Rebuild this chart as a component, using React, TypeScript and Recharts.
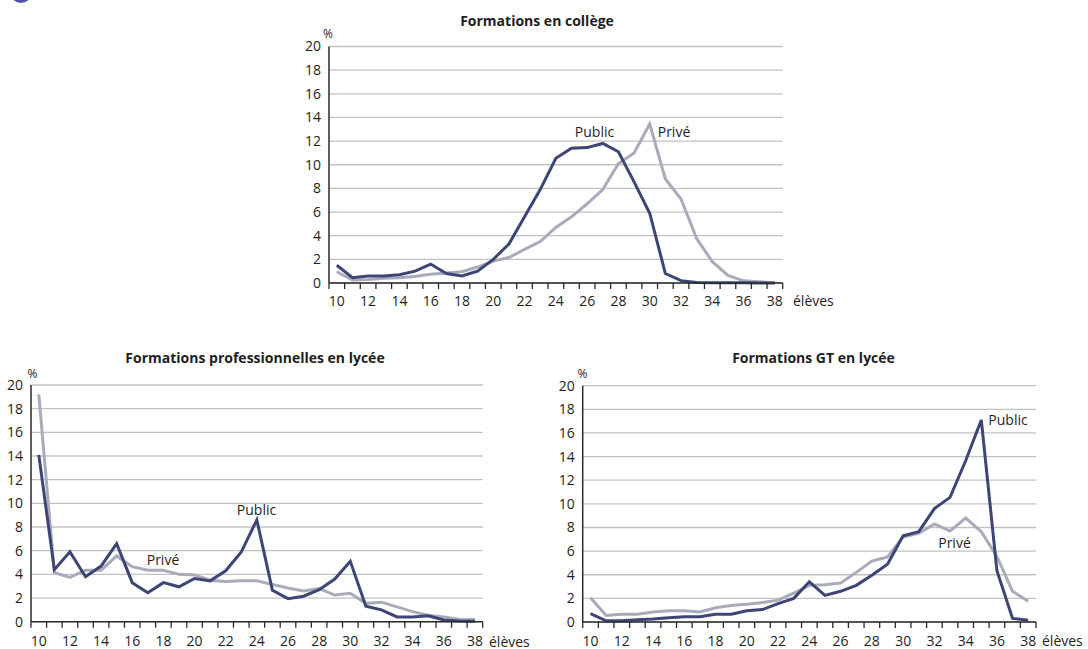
import React from 'react';
import { LineChart, Line, XAxis, YAxis, CartesianGrid } from 'recharts';

const categories = [10, 11, 12, 13, 14, 15, 16, 17, 18, 19, 20, 21, 22, 23, 24, 25, 26, 27, 28, 29, 30, 31, 32, 33, 34, 35, 36, 37, 38];

const collegePublic = [1.5, 0.45, 0.6, 0.6, 0.7, 1.0, 1.6, 0.8, 0.6, 1.0, 2.0, 3.3, 5.6, 7.9, 10.55, 11.4, 11.45, 11.8, 11.1, 8.55, 5.9, 0.8, 0.2, 0.05, 0.03, 0.02, 0.02, 0.01, 0.0];
const collegePrive = [0.95, 0.25, 0.3, 0.4, 0.45, 0.55, 0.75, 0.85, 0.95, 1.35, 1.85, 2.15, 2.85, 3.5, 4.7, 5.6, 6.7, 7.9, 10.1, 11.0, 13.45, 8.8, 7.1, 3.75, 1.8, 0.65, 0.18, 0.1, 0.03];

const proPublic = [14.1, 4.4, 5.9, 3.8, 4.7, 6.6, 3.3, 2.45, 3.3, 2.95, 3.65, 3.45, 4.3, 5.9, 8.6, 2.65, 1.95, 2.15, 2.7, 3.6, 5.1, 1.3, 1.0, 0.4, 0.4, 0.5, 0.15, 0.05, 0.03];
const proPrive = [19.2, 4.15, 3.75, 4.35, 4.35, 5.55, 4.65, 4.35, 4.35, 4.0, 3.95, 3.5, 3.4, 3.45, 3.45, 3.15, 2.85, 2.6, 2.8, 2.25, 2.4, 1.55, 1.65, 1.25, 0.85, 0.55, 0.4, 0.2, 0.18];

const gtPublic = [0.7, 0.1, 0.1, 0.2, 0.25, 0.35, 0.45, 0.45, 0.65, 0.65, 0.95, 1.05, 1.55, 2.0, 3.4, 2.25, 2.6, 3.1, 3.95, 4.9, 7.3, 7.65, 9.6, 10.55, 13.65, 17.1, 4.35, 0.3, 0.15];
const gtPrive = [2.05, 0.55, 0.65, 0.65, 0.85, 0.95, 0.95, 0.85, 1.2, 1.4, 1.5, 1.65, 1.85, 2.45, 3.1, 3.15, 3.3, 4.2, 5.15, 5.5, 7.2, 7.5, 8.3, 7.7, 8.8, 7.65, 5.55, 2.6, 1.75];

const yTicks = [0, 2, 4, 6, 8, 10, 12, 14, 16, 18, 20];
const xLabelTicks = [10, 12, 14, 16, 18, 20, 22, 24, 26, 28, 30, 32, 34, 36, 38];

const FONT = '"Open Sans", "DejaVu Sans", sans-serif';
const PUBLIC_COLOR = '#3d4577';
const PRIVE_COLOR = '#a9abba';
const GRID = '#c2c2c2';
const AXIS = '#2a2a2a';
const TEXT = '#1e1e1e';

const buildRows = (pub: number[], prv: number[]) =>
  categories.map((c, i) => ({ x: c, public: pub[i], prive: prv[i] }));

const xTicks: number[] = [];
categories.forEach((c) => {
  xTicks.push(c - 0.5);
  xTicks.push(c);
});
xTicks.push(categories[categories.length - 1] + 0.5);

const xDomain = [categories[0] - 0.5, categories[categories.length - 1] + 0.5];

function XTick(props: any) {
  const { x, y, payload, labelGap } = props;
  const v = payload.value;
  if (!Number.isInteger(v)) {
    return <line x1={x} x2={x} y1={y} y2={y + 6} stroke={AXIS} strokeWidth={1.3} />;
  }
  if (xLabelTicks.includes(v)) {
    return (
      <text x={x} y={y + labelGap} dy="0.71em" textAnchor="middle" fontSize={14} fill={TEXT} fontFamily={FONT}>
        {v}
      </text>
    );
  }
  return <g />;
}

type PanelProps = {
  rows: any[];
  width: number;
  height: number;
  margin: { top: number; right: number; bottom: number; left: number };
  yAxisWidth: number;
  xAxisHeight: number;
  labelGap: number;
};

function Panel({ rows, width, height, margin, yAxisWidth, xAxisHeight, labelGap }: PanelProps) {
  return (
    <LineChart width={width} height={height} data={rows} margin={margin}>
      <CartesianGrid horizontal vertical={false} stroke={GRID} strokeWidth={1.3} />
      <XAxis
        dataKey="x"
        type="number"
        domain={xDomain}
        ticks={xTicks}
        interval={0}
        tickLine={false}
        tickSize={0}
        tickMargin={0}
        height={xAxisHeight}
        axisLine={{ stroke: AXIS, strokeWidth: 1.5 }}
        tick={(p: any) => <XTick {...p} labelGap={labelGap} />}
      />
      <YAxis
        type="number"
        domain={[0, 20]}
        ticks={yTicks}
        interval={0}
        tickLine={false}
        width={yAxisWidth}
        axisLine={{ stroke: AXIS, strokeWidth: 1.5 }}
        tick={{ fontSize: 14, fill: TEXT, fontFamily: FONT }}
      />
      <Line dataKey="prive" type="linear" stroke={PRIVE_COLOR} strokeWidth={3} dot={false} activeDot={false} isAnimationActive={false} />
      <Line dataKey="public" type="linear" stroke={PUBLIC_COLOR} strokeWidth={3} dot={false} activeDot={false} isAnimationActive={false} />
    </LineChart>
  );
}

const collegeRows = buildRows(collegePublic, collegePrive);
const proRows = buildRows(proPublic, proPrive);
const gtRows = buildRows(gtPublic, gtPrive);

export default function App() {
  const abs = (left: number, top: number): React.CSSProperties => ({ position: 'absolute', left, top });
  return (
    <div style={{ position: 'absolute', left: 0, top: 0, width: 1088, height: 649, background: '#fff', overflow: 'hidden', fontFamily: FONT }}>
      <div style={{ position: 'absolute', left: 10, top: -19, width: 22, height: 22, borderRadius: 11, background: '#4b57a6' }} />

      <div style={abs(280, 0)}>
        <Panel rows={collegeRows} width={520} height={320} margin={{ top: 46.5, right: 17.3, bottom: 0, left: 0 }} yAxisWidth={49} xAxisHeight={37} labelGap={13.4} />
      </div>
      <div style={abs(0, 340)}>
        <Panel rows={proRows} width={500} height={309} margin={{ top: 45, right: 17.3, bottom: 0, left: 0 }} yAxisWidth={31} xAxisHeight={27.3} labelGap={14} />
      </div>
      <div style={abs(550, 340)}>
        <Panel rows={gtRows} width={500} height={309} margin={{ top: 45.7, right: 14, bottom: 0, left: 0 }} yAxisWidth={32.7} xAxisHeight={27} labelGap={14} />
      </div>

      <svg width={1088} height={649} style={{ position: 'absolute', left: 0, top: 0, pointerEvents: 'none' }} fontFamily={FONT}>
        <g fill={TEXT}>
          <text x={537} y={20} textAnchor="middle" dominantBaseline="central" fontSize={14} fontWeight="bold">Formations en collège</text>
          <text x={255} y={357} textAnchor="middle" dominantBaseline="central" fontSize={14} fontWeight="bold">Formations professionnelles en lycée</text>
          <text x={813.5} y={357} textAnchor="middle" dominantBaseline="central" fontSize={14} fontWeight="bold">Formations GT en lycée</text>

          <text x={328} y={33} textAnchor="middle" dominantBaseline="central" fontSize={12}>%</text>
          <text x={32.5} y={373} textAnchor="middle" dominantBaseline="central" fontSize={12}>%</text>
          <text x={582.5} y={373} textAnchor="middle" dominantBaseline="central" fontSize={12}>%</text>

          <text x={793} y={300} dominantBaseline="central" fontSize={14}>élèves</text>
          <text x={489} y={641} dominantBaseline="central" fontSize={14}>élèves</text>
          <text x={1042} y={640} dominantBaseline="central" fontSize={14}>élèves</text>

          <text x={594.5} y={131.5} textAnchor="middle" dominantBaseline="central" fontSize={14}>Public</text>
          <text x={674} y={131.5} textAnchor="middle" dominantBaseline="central" fontSize={14}>Privé</text>
          <text x={256.5} y={509} textAnchor="middle" dominantBaseline="central" fontSize={14}>Public</text>
          <text x={163} y={559} textAnchor="middle" dominantBaseline="central" fontSize={14}>Privé</text>
          <text x={1008} y={419} textAnchor="middle" dominantBaseline="central" fontSize={14}>Public</text>
          <text x={954.5} y={542.5} textAnchor="middle" dominantBaseline="central" fontSize={14}>Privé</text>
        </g>
      </svg>
    </div>
  );
}
